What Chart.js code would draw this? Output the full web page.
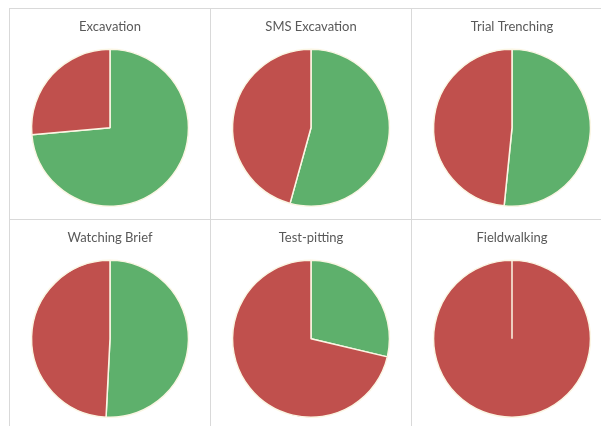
<!DOCTYPE html>
<html>
<head>
<meta charset="utf-8">
<script src="https://cdn.jsdelivr.net/npm/chart.js@4"></script>
<style>
  body { margin: 0; background: #fff; }
  #grid {
    position: absolute;
    left: 9px;
    top: 8px;
    display: grid;
    grid-template-columns: 201px 201px 201px;
    grid-template-rows: 211px 211px;
  }
  .cell {
    border-left: 1px solid #d9d9d9;
    border-top: 1px solid #d9d9d9;
    position: relative;
  }
  .cell canvas { display: block; }
</style>
</head>
<body>
<div id="grid"></div>
<script>
// one pie per fieldwork type, green share first then red share (percent)
const titles = ["Excavation", "SMS Excavation", "Trial Trenching", "Watching Brief", "Test-pitting", "Fieldwalking"];
const greenShare = [73.6, 54.3, 51.6, 50.8, 28.7, 0];
const redShare = [26.4, 45.7, 48.4, 49.2, 71.3, 100];
const sliceLabels = ["Green", "Red"];

const grid = document.getElementById("grid");

titles.forEach((title, i) => {
  const cell = document.createElement("div");
  cell.className = "cell";
  const canvas = document.createElement("canvas");
  canvas.width = 200;
  canvas.height = 210;
  cell.appendChild(canvas);
  grid.appendChild(cell);

  new Chart(canvas, {
    type: "pie",
    data: {
      labels: sliceLabels,
      datasets: [
        {
          data: [greenShare[i], redShare[i]],
          backgroundColor: ["rgb(94,176,108)", "rgb(192,80,77)"],
          borderColor: "#fbf6e4",
          borderWidth: 1.5,
        },
      ],
    },
    options: {
      responsive: false,
      animation: false,
      layout: { padding: { top: 0, bottom: 12, left: 0, right: 0 } },
      plugins: {
        legend: { display: false },
        tooltip: { enabled: false },
        title: {
          display: true,
          text: title,
          color: "#595959",
          font: { family: "Lato", size: 13, weight: "normal" },
          padding: { top: 10, bottom: 14 },
        },
      },
    },
  });
});
</script>
</body>
</html>
